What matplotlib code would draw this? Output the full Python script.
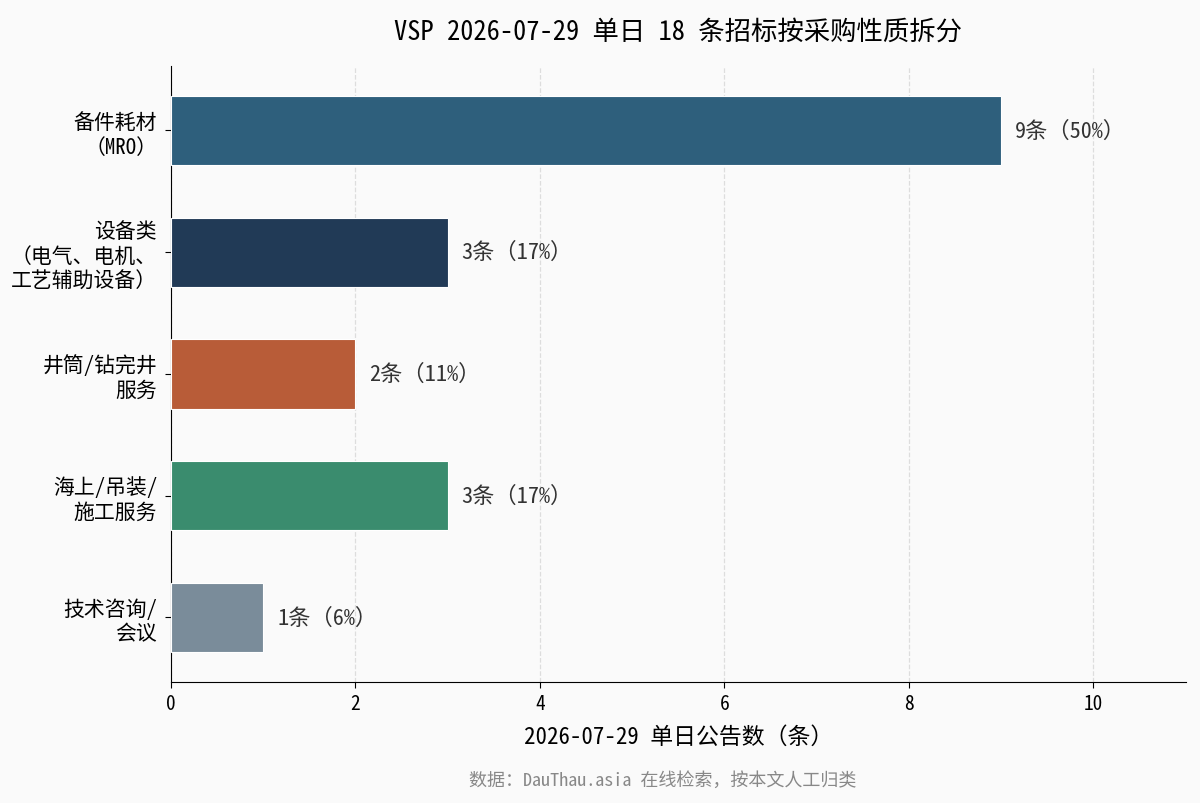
import matplotlib
matplotlib.use('Agg')
import matplotlib.pyplot as plt

# monospaced CJK face if present, else plain CJK sans, then DejaVu for the rest
plt.rcParams['font.family'] = ['Noto Sans Mono CJK SC', 'Noto Sans CJK SC', 'DejaVu Sans']
plt.rcParams['axes.unicode_minus'] = False

categories = ['备件耗材\n（MRO）', '设备类\n（电气、电机、\n工艺辅助设备）', '井筒/钻完井\n服务',
              '海上/吊装/\n施工服务', '技术咨询/\n会议']
counts = [9, 3, 2, 3, 1]
shares = [50, 17, 11, 17, 6]
colors = ['#2E5F7C', '#213A56', '#B85C38', '#3A8C6E', '#7A8C9A']

bg = '#FAFAFA'
fig, ax = plt.subplots(figsize=(12, 8.04), dpi=100)
fig.patch.set_facecolor(bg)
ax.set_facecolor(bg)

y = list(range(len(categories)))
ax.barh(y, counts, height=0.57, color=colors, edgecolor='white', linewidth=0.8, zorder=3)
for yi, c, s in zip(y, counts, shares):
    ax.text(c + 0.15, yi, '%d条（%d%%）' % (c, s), va='center', ha='left', fontsize=16, color='#333333')

ax.set_yticks(y)
ax.set_yticklabels(categories, fontsize=15, linespacing=1.15)
ax.set_ylim(4.53, -0.53)
ax.set_xlim(0, 11)
ax.set_xticks([0, 2, 4, 6, 8, 10])
ax.tick_params(axis='x', labelsize=14, pad=5, length=4)
ax.tick_params(axis='y', pad=6, length=4)
ax.set_xlabel('2026-07-29 单日公告数（条）', fontsize=16.5, labelpad=8)
ax.set_title('VSP 2026-07-29 单日 18 条招标按采购性质拆分', fontsize=19, pad=20)
ax.grid(axis='x', linestyle='--', color='#DDDDDD', linewidth=0.9, zorder=0)
ax.spines['top'].set_visible(False)
ax.spines['right'].set_visible(False)

fig.text(0.552, 0.022, '数据：DauThau.asia 在线检索，按本文人工归类', ha='center', fontsize=13, color='#888888')

fig.subplots_adjust(left=0.1425, right=0.988, top=0.9167, bottom=0.1505)
plt.savefig('out.png', dpi=100, facecolor=bg)
